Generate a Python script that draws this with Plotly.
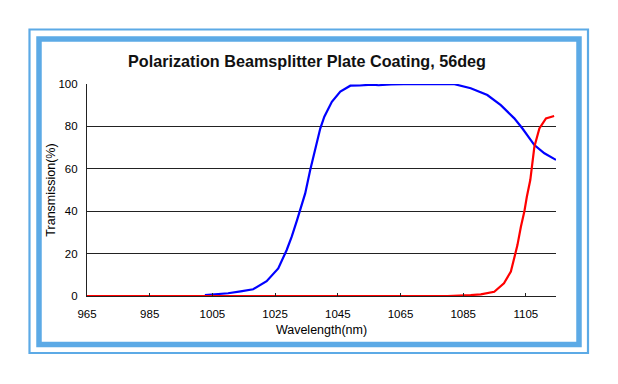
import plotly.graph_objects as go

# ---- data ----
blue_wl = [1002.6, 1006, 1010, 1014, 1018, 1022.3, 1026, 1028.7, 1030.3, 1032, 1033,
           1034.6, 1036.2, 1037.8, 1039.4, 1040.7, 1043.1, 1045.8, 1049, 1052, 1054.3,
           1056, 1058, 1062, 1070, 1078, 1082.2, 1087.4, 1092.7, 1097, 1101.3, 1103.9,
           1107.7, 1110.9, 1114.6]
blue_t = [0.4, 0.7, 1.3, 2.2, 3.2, 7.0, 13.0, 21.7, 28.0, 35.8, 40.6,
          48.4, 59.4, 68.9, 79.0, 84.6, 91.6, 96.4, 99.2, 99.3, 99.5,
          99.7, 99.4, 99.8, 100.0, 100.0, 99.9, 98.0, 94.8, 90.0, 83.8, 79.0,
          71.2, 67.3, 64.2]

red_wl = [965, 1000, 1040, 1080, 1087.4, 1090.6, 1094.9, 1098, 1100.2, 1101.3, 1102.3,
          1103.4, 1104.5, 1105.3, 1106.4, 1107.7, 1109.3, 1111.4, 1114]
red_t = [0.0, 0.0, 0.0, 0.0, 0.4, 0.8, 2.0, 6.0, 11.5, 17.8, 24.0,
         32.7, 39.8, 46.8, 54.7, 70.4, 79.0, 83.8, 84.9]

x_ticks = [965, 985, 1005, 1025, 1045, 1065, 1085, 1105]
y_ticks = [0, 20, 40, 60, 80, 100]

title_text = "Polarization Beamsplitter Plate Coating, 56deg"
x_title = "Wavelength(nm)"
y_title = "Transmission(%)"

# ---- layout geometry (pixels in the 618x384 window; page body has an 8px margin) ----
OFF = 8
W, H = 618 - OFF, 384 - OFF
L, R, T, B = 87 - OFF, 556 - OFF, 84 - OFF, 296 - OFF
PW, PH = R - L, B - T


def px(xp):
    return (xp - OFF - L) / PW


def py(yp):
    return (B - (yp - OFF)) / PH


FONT = "Liberation Sans, Arial, sans-serif"
BORDER = "#5caae6"

fig = go.Figure()
fig.add_trace(go.Scatter(x=blue_wl, y=blue_t, mode="lines",
                         line=dict(color="#0000ff", width=2.2), showlegend=False))
fig.add_trace(go.Scatter(x=red_wl, y=red_t, mode="lines",
                         line=dict(color="#ff0000", width=2.2), showlegend=False))

shapes = [
    # outer thin frame
    dict(type="rect", xref="paper", yref="paper",
         x0=px(29.5), x1=px(588), y0=py(353), y1=py(29.5),
         line=dict(color=BORDER, width=2.2), layer="below"),
    # inner thick frame
    dict(type="rect", xref="paper", yref="paper",
         x0=px(39), x1=px(579), y0=py(344.5), y1=py(39),
         line=dict(color=BORDER, width=5.5), layer="below"),
]

fig.update_layout(
    width=W, height=H,
    margin=dict(l=L, r=W - R, t=T, b=H - B, pad=0, autoexpand=False),
    paper_bgcolor="white", plot_bgcolor="white",
    font=dict(family=FONT, color="#000000"),
    title=dict(text=title_text, font=dict(family=FONT, size=16.2, color="#111111", weight="bold"),
               x=(307 - OFF) / W, xref="container", xanchor="center",
               y=1 - (61 - OFF) / H, yref="container", yanchor="middle"),
    shapes=shapes,
    xaxis=dict(range=[965, 1114.6], tickvals=x_ticks, ticktext=[str(v) for v in x_ticks],
               showgrid=False, zeroline=False, showline=True, linecolor="#222222", linewidth=1.2,
               ticks="inside", ticklen=3, tickwidth=1, tickcolor="#222222",
               tickfont=dict(size=11.5, color="#000000"), ticklabelstandoff=7,
               title=dict(text=x_title, font=dict(size=12.5, color="#000000"), standoff=6)),
    yaxis=dict(range=[0, 100], tickvals=y_ticks, ticktext=[str(v) for v in y_ticks],
               showgrid=True, gridcolor="#222222", gridwidth=1.2,
               zeroline=False, showline=True, linecolor="#222222", linewidth=1.2,
               ticks="", tickfont=dict(size=11.5, color="#000000"), ticklabelstandoff=6,
               title=dict(text=y_title, font=dict(size=12.5, color="#000000"), standoff=0)),
)

fig.write_html("out.html")
